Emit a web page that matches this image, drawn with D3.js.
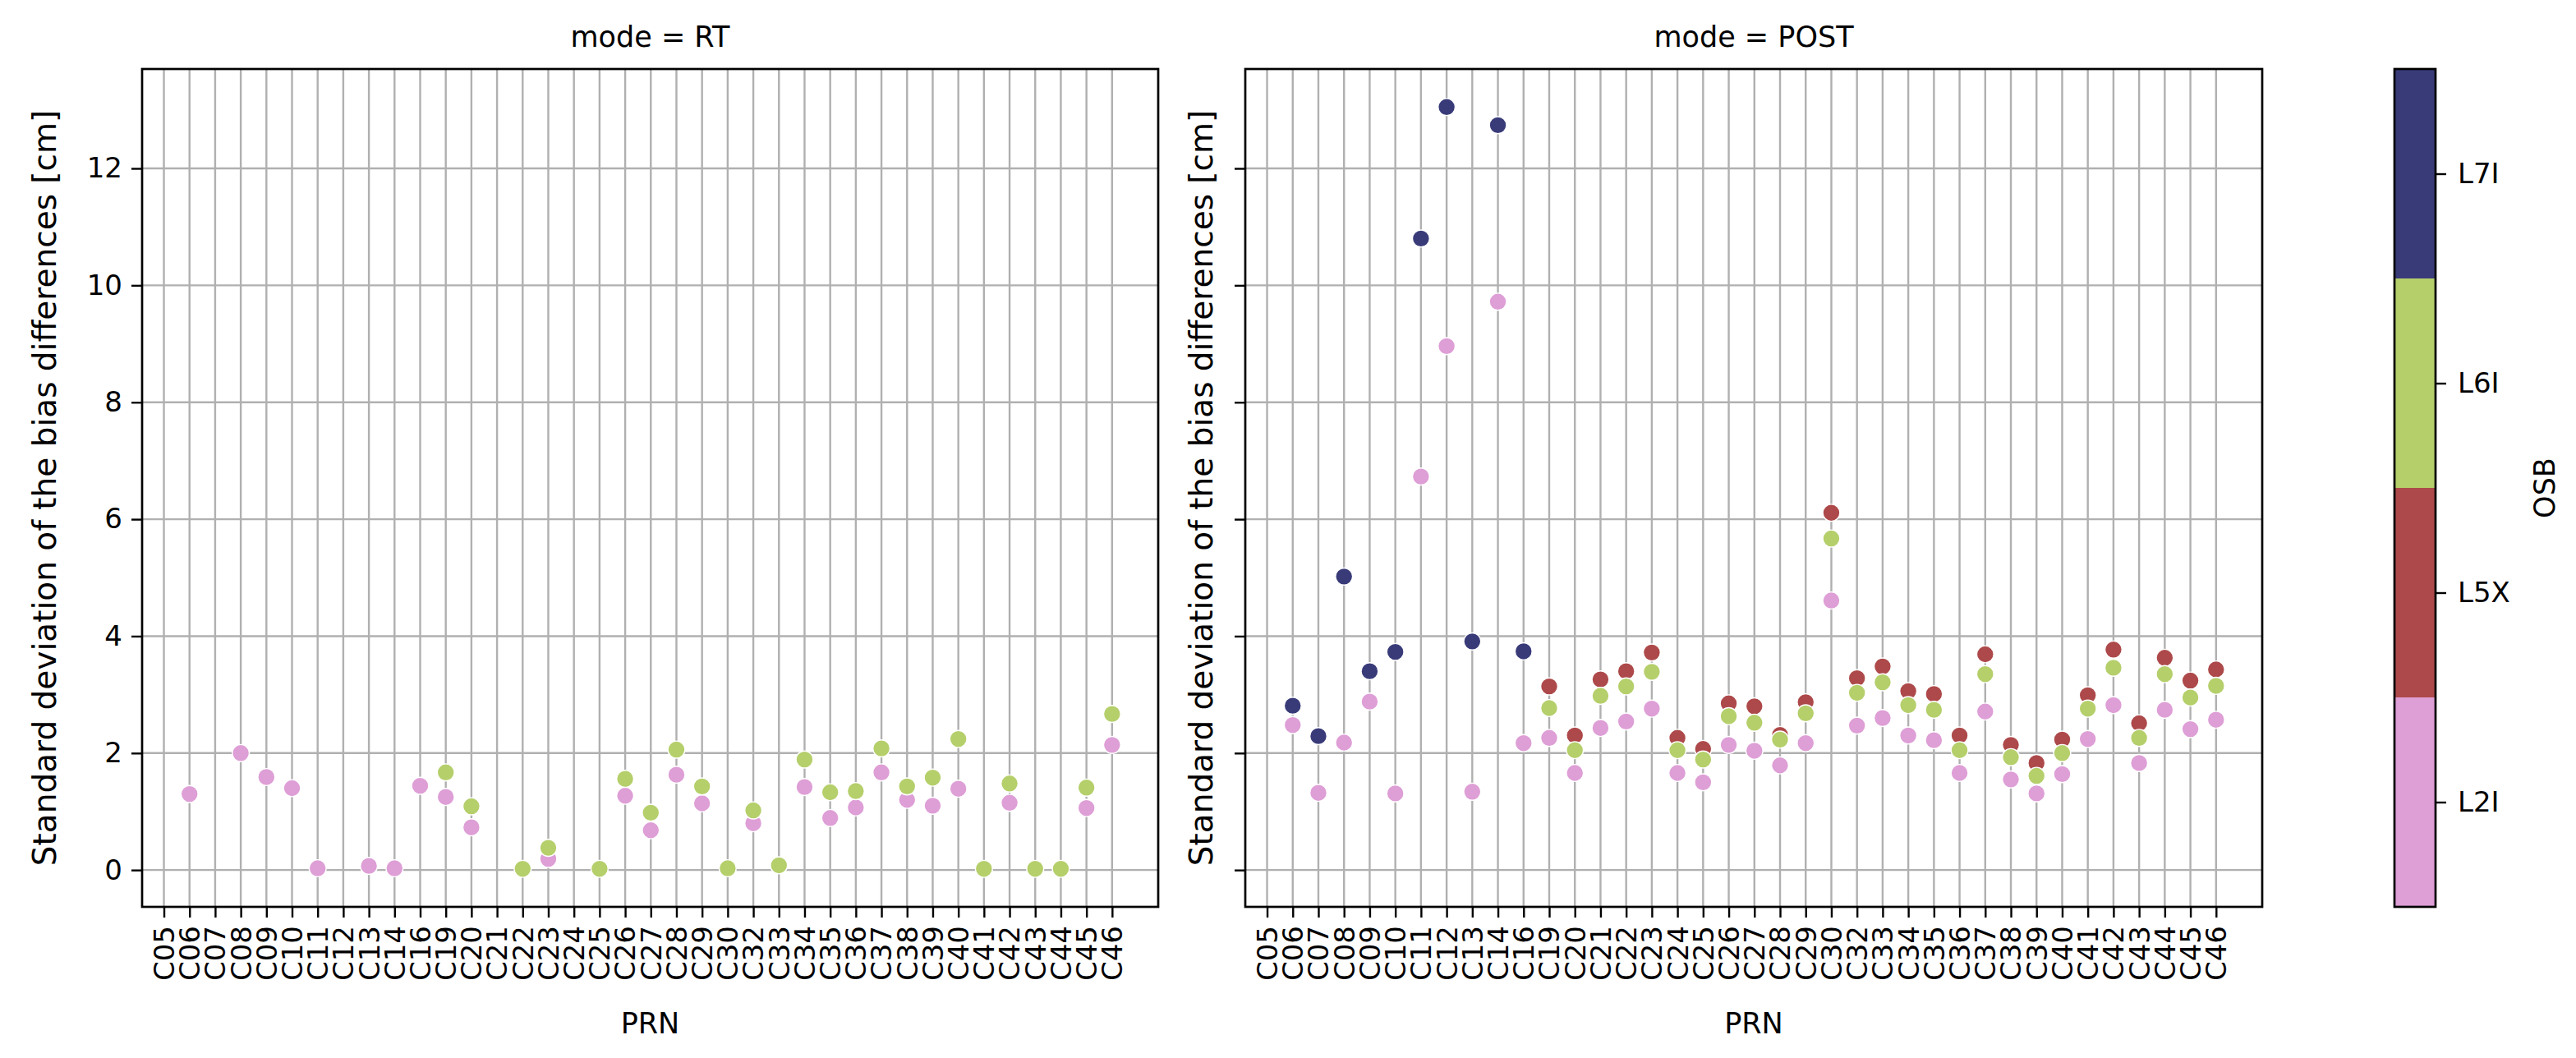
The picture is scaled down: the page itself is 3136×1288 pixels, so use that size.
<!DOCTYPE html>
<html><head><meta charset="utf-8">
<script src="https://cdn.jsdelivr.net/npm/d3@7"></script>
<style>
body{margin:0;background:#fff}
text{font-family:"DejaVu Sans",sans-serif;fill:#000}
</style>
</head><body>
<svg id="c" width="3136" height="1288"></svg>
<script>
// ---------------- data ----------------
const prn = ["C05","C06","C07","C08","C09","C10","C11","C12","C13","C14",
             "C16","C19","C20","C21","C22","C23","C24","C25","C26","C27",
             "C28","C29","C30","C32","C33","C34","C35","C36","C37","C38",
             "C39","C40","C41","C42","C43","C44","C45","C46"];
const modes = ["RT","POST"];
const osb = ["L2I","L5X","L6I","L7I"];
const osbColors = ["#de9ed6","#ad494a","#b5cf6b","#393b79"];
const yTicks = [0,2,4,6,8,10,12];
const N = null;

const rtL2I = [N,1.30,N,2.00,1.59,1.40,0.03,N,0.07,0.03,
               1.44,1.25,0.73,N,N,0.19,N,N,1.27,0.68,
               1.63,1.14,N,0.80,N,1.42,0.89,1.07,1.67,1.20,
               1.10,1.39,N,1.15,N,N,1.06,2.14];
const rtL5X = [N,N,N,N,N,N,N,N,N,N, N,N,N,N,N,N,N,N,N,N, N,N,N,N,N,N,N,N,N,N, N,N,N,N,N,N,N,N];
const rtL6I = [N,N,N,N,N,N,N,N,N,N,
               N,1.67,1.09,N,0.02,0.38,N,0.02,1.56,0.98,
               2.06,1.43,0.03,1.02,0.08,1.89,1.33,1.35,2.08,1.43,
               1.58,2.24,0.02,1.48,0.02,0.02,1.41,2.67];
const rtL7I = [N,N,N,N,N,N,N,N,N,N, N,N,N,N,N,N,N,N,N,N, N,N,N,N,N,N,N,N,N,N, N,N,N,N,N,N,N,N];

const postL2I = [N,2.48,1.32,2.18,2.88,1.31,6.73,8.96,1.34,9.72,
                 2.17,2.26,1.66,2.43,2.54,2.76,1.66,1.50,2.14,2.04,
                 1.79,2.17,4.61,2.47,2.60,2.30,2.22,1.66,2.71,1.55,
                 1.31,1.64,2.24,2.82,1.83,2.74,2.41,2.57];
const postL5X = [N,N,N,N,N,N,N,N,N,N,
                 N,3.14,2.30,3.26,3.40,3.72,2.26,2.07,2.85,2.80,
                 2.31,2.87,6.11,3.28,3.48,3.06,3.01,2.30,3.69,2.14,
                 1.83,2.23,2.99,3.77,2.51,3.63,3.24,3.43];
const postL6I = [N,N,N,N,N,N,N,N,N,N,
                 N,2.77,2.05,2.98,3.14,3.39,2.05,1.89,2.63,2.52,
                 2.23,2.68,5.67,3.03,3.21,2.82,2.74,2.05,3.35,1.93,
                 1.61,2.00,2.76,3.46,2.26,3.35,2.95,3.15];
const postL7I = [N,2.81,2.29,5.02,3.40,3.73,10.80,13.05,3.91,12.74,
                 3.74,N,N,N,N,N,N,N,N,N,
                 N,N,N,N,N,N,N,N,N,N,
                 N,N,N,N,N,N,N,N];

const seriesByMode = {RT:[rtL2I,rtL5X,rtL6I,rtL7I], POST:[postL2I,postL5X,postL6I,postL7I]};

// ---------------- layout ----------------
(function draw(){
const svg = d3.select("#c");
const yTop = 84, yBot = 1104;
const panelX = [[173,1410],[1516,2754]];
const FS = 34;
const y = d3.scaleLinear().domain([-0.63,13.70]).range([yBot, yTop]);
const gridCol = "#b0b0b0";

modes.forEach((mode, p) => {
  const [x0,x1] = panelX[p];
  const x = d3.scaleLinear().domain([-0.85, 38.8]).range([x0, x1]);
  const g = svg.append("g");

  g.append("g").selectAll("line").data(d3.range(prn.length)).join("line")
    .attr("x1", d=>x(d)).attr("x2", d=>x(d)).attr("y1", yTop).attr("y2", yBot)
    .attr("stroke", gridCol).attr("stroke-width", 2.4);
  g.append("g").selectAll("line").data(yTicks).join("line")
    .attr("x1", x0).attr("x2", x1).attr("y1", d=>y(d)).attr("y2", d=>y(d))
    .attr("stroke", gridCol).attr("stroke-width", 2.4);

  const series = seriesByMode[mode];
  osb.forEach((o, k) => {
    const pts = series[k].map((v,i)=>({i, v})).filter(d=>d.v!==null);
    g.append("g").selectAll("circle").data(pts).join("circle")
      .attr("cx", d=>x(d.i)).attr("cy", d=>y(d.v)).attr("r", 10.4)
      .attr("fill", osbColors[k]).attr("stroke", "#fff").attr("stroke-width", 1.4);
  });

  g.append("rect").attr("x", x0).attr("y", yTop).attr("width", x1-x0).attr("height", yBot-yTop)
    .attr("fill","none").attr("stroke","#000").attr("stroke-width",2.7);

  const xa = g.append("g").attr("transform", `translate(0,${yBot})`)
    .call(d3.axisBottom(x).tickValues(d3.range(prn.length)).tickFormat(i=>prn[i]).tickSize(13).tickPadding(0));
  xa.select(".domain").remove();
  xa.selectAll(".tick line").attr("stroke","#000").attr("stroke-width",2.4);
  xa.selectAll(".tick text")
    .attr("font-size", FS).attr("font-family","DejaVu Sans")
    .attr("transform","rotate(-90)")
    .attr("text-anchor","end")
    .attr("x", -23).attr("y", 0).attr("dy","0.35em");

  const ya = g.append("g").attr("transform", `translate(${x0},0)`)
    .call(d3.axisLeft(y).tickValues(yTicks).tickSize(13).tickPadding(11)
      .tickFormat(p===0 ? d3.format("d") : ()=>""));
  ya.select(".domain").remove();
  ya.selectAll(".tick line").attr("stroke","#000").attr("stroke-width",2.4);
  ya.selectAll(".tick text").attr("font-size", FS).attr("font-family","DejaVu Sans");

  g.append("text").attr("x", (x0+x1)/2).attr("y", 57).attr("text-anchor","middle")
    .attr("font-size", 35).text(`mode = ${mode}`);
  g.append("text").attr("x", (x0+x1)/2).attr("y", 1258).attr("text-anchor","middle")
    .attr("font-size", 35).text("PRN");
  const ylx = p===0 ? 54 : 1462;
  g.append("text").attr("transform", `translate(${ylx},${(yTop+yBot)/2}) rotate(-90)`)
    .attr("text-anchor","middle").attr("dy","0.35em")
    .attr("font-size", 39).text("Standard deviation of the bias differences [cm]");
});

// ---------------- colorbar ----------------
const cbX0 = 2915, cbX1 = 2965;
const cb = d3.scaleBand().domain(osb).range([yBot, yTop]);
const cg = svg.append("g");
cg.selectAll("rect.seg").data(osb).join("rect").attr("class","seg")
  .attr("x", cbX0).attr("width", cbX1-cbX0)
  .attr("y", d=>cb(d)).attr("height", cb.bandwidth())
  .attr("fill", (d,i)=>osbColors[i]);
cg.append("rect").attr("x", cbX0).attr("y", yTop).attr("width", cbX1-cbX0).attr("height", yBot-yTop)
  .attr("fill","none").attr("stroke","#000").attr("stroke-width",2.7);
const cbCenter = d3.scalePoint().domain(osb).range([yBot, yTop]).padding(0.5);
const ca = cg.append("g").attr("transform", `translate(${cbX1},0)`)
  .call(d3.axisRight(cbCenter).tickSize(13).tickPadding(14));
ca.select(".domain").remove();
ca.selectAll(".tick line").attr("stroke","#000").attr("stroke-width",2.4);
ca.selectAll(".tick text").attr("font-size", FS).attr("font-family","DejaVu Sans");
cg.append("text").attr("transform", `translate(3098,${(yTop+yBot)/2}) rotate(-90)`)
  .attr("text-anchor","middle").attr("dy","0.35em").attr("font-size", 35).text("OSB");
})();
</script>
</body></html>
